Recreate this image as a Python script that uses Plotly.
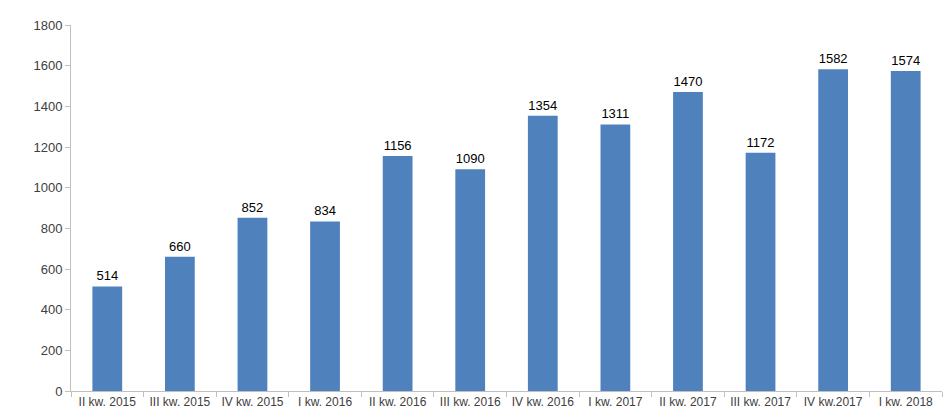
import plotly.graph_objects as go

# Quarterly values
quarters = [
    "II kw. 2015", "III kw. 2015", "IV kw. 2015", "I kw. 2016",
    "II kw. 2016", "III kw. 2016", "IV kw. 2016", "I kw. 2017",
    "II kw. 2017", "III kw. 2017", "IV kw.2017", "I kw. 2018",
]
values = [514, 660, 852, 834, 1156, 1090, 1354, 1311, 1470, 1172, 1582, 1574]
y_ticks = [0, 200, 400, 600, 800, 1000, 1200, 1400, 1600, 1800]

fig = go.Figure()

fig.add_trace(
    go.Bar(
        x=quarters,
        y=values,
        marker=dict(color="#4F81BD", line=dict(width=0)),
        text=[str(v) for v in values],
        textposition="outside",
        textfont=dict(family="Liberation Sans", size=13, color="#000000"),
        cliponaxis=False,
    )
)

fig.update_layout(
    width=945,
    height=420,
    plot_bgcolor="white",
    paper_bgcolor="white",
    showlegend=False,
    bargap=0.59,
    margin=dict(l=71, r=3, t=25, b=29),
    font=dict(family="Liberation Sans", size=12, color="#404040"),
)

fig.update_xaxes(
    showline=True,
    linecolor="#BFBFBF",
    linewidth=1,
    ticks="outside",
    tickson="boundaries",
    ticklen=5,
    tickcolor="#BFBFBF",
    showgrid=False,
    tickangle=0,
    automargin=False,
    tickfont=dict(size=12, color="#404040"),
)

fig.update_yaxes(
    range=[0, 1800],
    tickvals=y_ticks,
    showline=True,
    linecolor="#BFBFBF",
    linewidth=1,
    ticks="outside",
    ticklen=5,
    tickcolor="#BFBFBF",
    showgrid=False,
    zeroline=False,
    automargin=False,
    tickfont=dict(size=13, color="#404040"),
)

# drop the default page margin so the figure sits at the window corner
fig.write_html(
    "out.html",
    config={"displayModeBar": False},
    post_script="document.body.style.margin='0';document.body.style.overflow='hidden';",
)
